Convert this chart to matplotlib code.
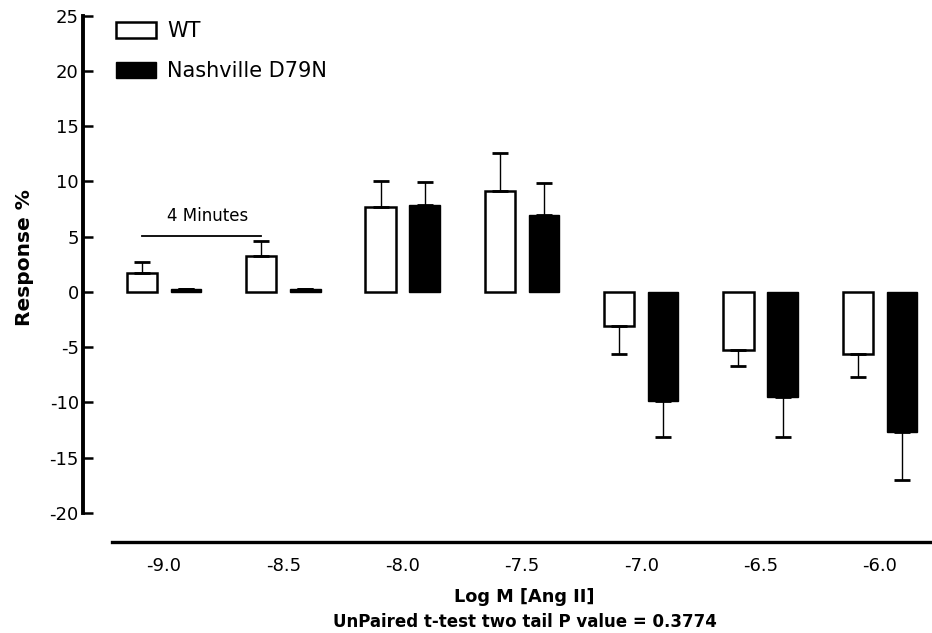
import matplotlib
matplotlib.use("Agg")
import matplotlib.pyplot as plt
from matplotlib.patches import Patch
import numpy as np

# ---- data ----
categories = ["-9.0", "-8.5", "-8.0", "-7.5", "-7.0", "-6.5", "-6.0"]
wt_values = [1.72, 3.26, 7.72, 9.15, -3.05, -5.25, -5.61]
wt_sem = [1.0, 1.36, 2.33, 3.45, 2.59, 1.42, 2.06]
mut_values = [0.25, 0.25, 7.87, 6.97, -9.84, -9.48, -12.64]
mut_sem = [0.0, 0.0, 2.06, 2.87, 3.31, 3.67, 4.37]
series_labels = ["WT", "Nashville D79N"]
y_ticks = [-20, -15, -10, -5, 0, 5, 10, 15, 20, 25]
annotation = "4 Minutes"
annotation_y = 5.1
xlabel = "Log M [Ang II]"
ylabel = "Response %"
footnote = "UnPaired t-test two tail P value = 0.3774"

plt.rcParams['font.family'] = ['DejaVu Sans']

W, H = 932, 633
fig = plt.figure(figsize=(W / 100, H / 100), dpi=100)
ax_left, ax_right, ax_top, ax_bottom = 83, 932, 15.7, 542
ax = fig.add_axes([ax_left / W, (H - ax_bottom) / H,
                   (ax_right - ax_left) / W, (ax_bottom - ax_top) / H])

x = np.arange(len(categories))
off = 0.185
bw = 0.255

def one_sided(vals, errs):
    vals = np.asarray(vals); errs = np.asarray(errs)
    lower = np.where(vals < 0, errs, 0.0)
    upper = np.where(vals >= 0, errs, 0.0)
    return [lower, upper]

ax.bar(x - off, wt_values, width=bw, color="white", edgecolor="black",
       linewidth=1.8, zorder=2)
ax.bar(x + off, mut_values, width=bw, color="black", edgecolor="black",
       linewidth=1.0, zorder=2)
ax.errorbar(x - off, wt_values, yerr=one_sided(wt_values, wt_sem), fmt="none",
            ecolor="black", elinewidth=1.0, capsize=5.8, capthick=2.0, zorder=3)
ax.errorbar(x + off, mut_values, yerr=one_sided(mut_values, mut_sem), fmt="none",
            ecolor="black", elinewidth=1.0, capsize=5.8, capthick=2.0, zorder=3)

# "4 Minutes" bracket between first two WT bars
ax.plot([x[0] - off, x[1] - off], [annotation_y, annotation_y], color="black",
        linewidth=1.3, zorder=3)
ax.text(0.369, 6.45, annotation, ha="center", va="baseline", fontsize=12)

# axes limits matching pixel layout
px_per_unit_x = 119.3
cx0 = 164
ax.set_xlim((ax_left - cx0) / px_per_unit_x, (ax_right - cx0) / px_per_unit_x)
px_per_unit_y = 11.05
y0 = 292
ax.set_ylim((y0 - ax_bottom) / px_per_unit_y, 25)

ax.set_xticks(x)
ax.set_xticklabels(categories)
ax.set_yticks(y_ticks)
ax.set_yticklabels([str(t) for t in y_ticks])

for s in ["top", "right"]:
    ax.spines[s].set_visible(False)
ax.spines["left"].set_linewidth(2.8)
ax.spines["left"].set_bounds(-20, 25)
ax.spines["bottom"].set_linewidth(2.4)
ax.spines["bottom"].set_bounds((112 - cx0) / px_per_unit_x, (ax_right - cx0) / px_per_unit_x)

ax.tick_params(axis="y", direction="in", length=7, width=1.8, pad=3, labelsize=13)
ax.tick_params(axis="x", length=0, pad=11, labelsize=13)

ax.set_ylabel(ylabel, fontsize=14.5, fontweight="bold", va="center")
ax.yaxis.set_label_coords((25 - ax_left) / (ax_right - ax_left),
                          (ax_bottom - 258) / (ax_bottom - ax_top))

ax.set_xlabel(xlabel, fontsize=12.8, fontweight="bold", va="baseline")
ax.xaxis.set_label_coords((524.5 - ax_left) / (ax_right - ax_left),
                          (ax_bottom - 602.3) / (ax_bottom - ax_top))

fig.text(525 / W, (H - 626.7) / H, footnote, ha="center", va="baseline",
         fontsize=12, fontweight="bold")

handles = [Patch(facecolor="white", edgecolor="black", linewidth=1.8),
           Patch(facecolor="black", edgecolor="black", linewidth=1.0)]
ax.legend(handles, series_labels, loc="upper left",
          bbox_to_anchor=((116 - ax_left) / (ax_right - ax_left),
                          (ax_bottom - 21) / (ax_bottom - ax_top)),
          frameon=False, fontsize=15, handlelength=1.92, handleheight=0.82,
          handletextpad=0.55, labelspacing=0.96, borderpad=0, borderaxespad=0)

fig.savefig("out.png", dpi=100)
